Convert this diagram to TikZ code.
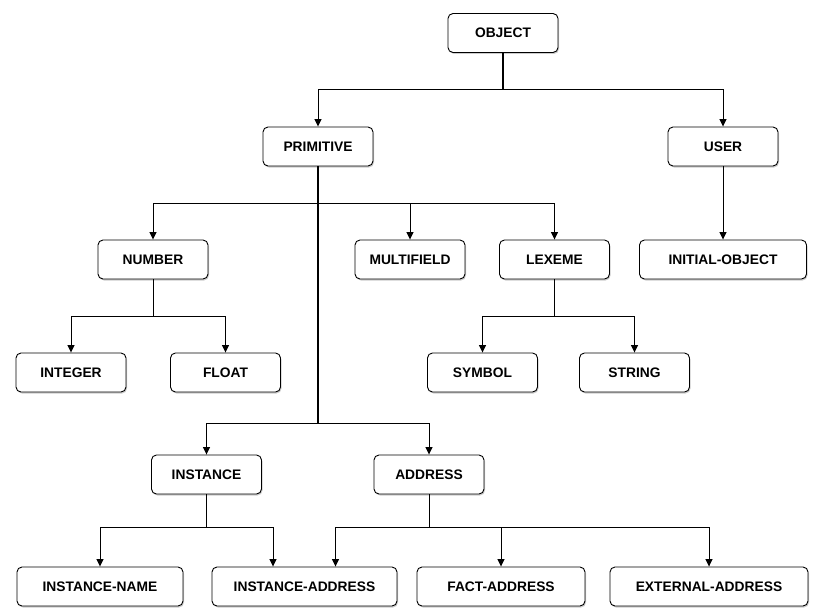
\documentclass[tikz,border=0pt]{standalone}
\usepackage{fontspec}
\setmainfont{Liberation Sans}
\usepackage{tikz}
\usetikzlibrary{arrows.meta,positioning,shadows,calc}
\tikzset{>={Triangle[length=7.5pt,width=7pt]},
	cbox/.style={rectangle,rounded corners=5pt,draw=black,line width=0.9pt,fill=white,
		minimum width=110pt,minimum height=39pt,inner sep=2pt,
		font=\fontsize{13.8}{16}\selectfont\bfseries,
		drop shadow={shadow xshift=1pt,shadow yshift=-1.5pt,opacity=0.4}},
	wbox/.style={cbox,minimum width=#1},
	edge/.style={line width=0.9pt},
	trunk/.style={line width=1.6pt}}
\begin{document}
\begin{tikzpicture}[x=1pt,y=-1pt]
		\useasboundingbox (0,0) rectangle (829,610);
		\node (O) at (503,33) [cbox] {OBJECT};
		\node (P) at (318,146.5) [cbox] {PRIMITIVE};
		\node (U) at (723,146.5) [cbox] {USER};
		\node (N) at (153,259.5) [cbox] {NUMBER};
		\node (M) at (410,259.5) [cbox] {MULTIFIELD};
		\node (L) at (554.5,259.5) [cbox] {LEXEME};
		\node (IO) at (723,259.5) [wbox=167pt] {INITIAL-OBJECT};
		\node (N1) at (71,372.5) [cbox] {INTEGER};
		\node (N2) at (225.5,372.5) [cbox] {FLOAT};
		\node (L1) at (482.5,372.5) [cbox] {SYMBOL};
		\node (L2) at (634.5,372.5) [cbox] {STRING};
		\node (I) at (206.5,474.5) [cbox] {INSTANCE};
		\node (A) at (429,474.5) [cbox] {ADDRESS};
		\node (I1) at (100,586.5) [wbox=166pt] {INSTANCE-NAME};
		\node (IA) at (304.5,586.5) [wbox=185pt] {INSTANCE-ADDRESS};
		\node (A1) at (501,586.5) [wbox=168pt] {FACT-ADDRESS};
		\node (A2) at (709,586.5) [wbox=198pt] {EXTERNAL-ADDRESS};
		% object
		\draw [trunk] (O.south) -- ++(0,36.5);
		\draw [edge,->] (O.south) ++(0,36.5) -| (P.north);
		\draw [edge,->] (O.south) ++(0,36.5) -| (U.north);
		\draw [edge,->] (U) -- (IO);
		% primitive
		\draw [trunk] (P.south) -- ++(0,257) coordinate (pj);
		\draw [edge,->] (P.south) ++(0,36.5) -| (N.north);
		\draw [edge,->] (P.south) ++(0,36.5) -| (M.north);
		\draw [edge,->] (P.south) ++(0,36.5) -| (L.north);
		\draw [edge,->] (pj) -| (I.north);
		\draw [edge,->] (pj) -| (A.north);
		% number, lexeme
		\draw [edge,->] (N.south) -- ++(0,37) -| (N1.north);
		\draw [edge,->] (N.south) -- ++(0,37) -| (N2.north);
		\draw [edge,->] (L.south) -- ++(0,37) -| (L1.north);
		\draw [edge,->] (L.south) -- ++(0,37) -| (L2.north);
		% instance, address
		\draw [edge,->] (I.south) -- ++(0,33) -| (I1.north);
		\draw [edge,->] (I.south) -- ++(0,33) -| ($(IA.north)+(-31.5,0)$);
		\draw [edge,->] (A.south) -- ++(0,33) -| ($(IA.north)+(31,0)$);
		\draw [edge,->] (A.south) -- ++(0,33) -| (A1.north);
		\draw [edge,->] (A.south) -- ++(0,33) -| (A2.north);
\end{tikzpicture}
\end{document}
